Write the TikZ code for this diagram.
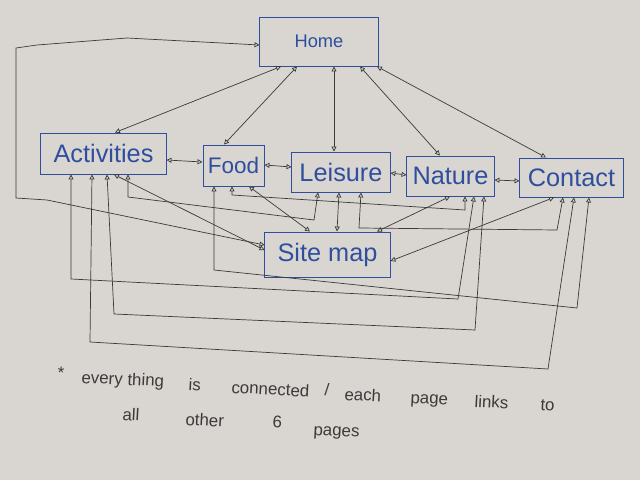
\documentclass[tikz,border=0pt]{standalone}
\usepackage{fontspec}
\setmainfont{Liberation Sans}
\usetikzlibrary{arrows.meta}

\definecolor{paper}{HTML}{D9D6D1}
\definecolor{ink}{HTML}{2F4E9E}
\definecolor{pencil}{HTML}{3A3A3A}

\begin{document}
\begin{tikzpicture}[
            x=0.025cm, y=-0.025cm,
            >={Triangle[open,length=3.5pt,width=3.5pt]},
            page/.style = {
                rectangle,
                draw=ink,
                line width=0.7pt,
                text=ink,
                inner sep=0pt,
                font=\fontsize{18}{20}\selectfont
            },
            link/.style = {
                <->,
                draw=pencil,
                line width=0.5pt
            },
            note/.style = {
                anchor=base west,
                text=pencil,
                inner sep=0pt,
                rotate=-3,
                font=\fontsize{12}{14}\selectfont
            }
        ]
            \fill[paper] (0,0) rectangle (640,480);
            \useasboundingbox (0,0) rectangle (640,480);

            \node[page, minimum width=2.95cm, minimum height=1.225cm, font=\fontsize{13}{15}\selectfont] (home) at (319,41.5) {Home};
            \node[page, minimum width=3.125cm, minimum height=1.025cm] (act) at (103.5,153.5) {Activities};
            \node[page, minimum width=1.525cm, minimum height=1.025cm, font=\fontsize{16}{18}\selectfont] (food) at (233.5,165.5) {Food};
            \node[page, minimum width=2.45cm, minimum height=1cm] (leis) at (341,172) {Leisure};
            \node[page, minimum width=2.175cm, minimum height=1cm] (nat) at (450.5,176) {Nature};
            \node[page, minimum width=2.575cm, minimum height=0.975cm] (cont) at (571.5,177.5) {Contact};
            \node[page, minimum width=3.125cm, minimum height=1.125cm] (site) at (327.5,254.5) {Site map};

            \draw[link] (home.south -| 281,0) -- (act.north -| 115,0);
            \draw[link] (home.south -| 297,0) -- (food.north -| 224,0);
            \draw[link] (home.south -| 334,0) -- (leis.north -| 334,0);
            \draw[link] (home.south -| 360,0) -- (nat.north -| 440,0);
            \draw[link] (home.south -| 377,0) -- (cont.north -| 546,0);
            \draw[link] (home.west |- 0,45) -- (127,38) -- (37,45) -- (16,48) -- (16,198) -- (47,200) -- (site.west |- 0,245);

            \draw[link] (act.east |- 0,160) -- (food.west |- 0,162);
            \draw[link] (food.east |- 0,165) -- (leis.west |- 0,167);
            \draw[link] (leis.east |- 0,173) -- (nat.west |- 0,175);
            \draw[link] (nat.east |- 0,180) -- (cont.west |- 0,181);

            \draw[link] (act.south -| 71,0) -- (71,279) -- (458,299) -- (nat.south -| 474,0);
            \draw[link] (act.south -| 92,0) -- (90,342) -- (548,369) -- (cont.south -| 574,0);
            \draw[link] (act.south -| 107,0) -- (114,314) -- (475,330) -- (nat.south -| 484,0);
            \draw[link] (act.south -| 114,0) -- (site.west |- 0,250);
            \draw[link] (act.south -| 128,0) -- (128,197) -- (314,220) -- (leis.south -| 318,0);

            \draw[link] (food.south -| 214,0) -- (214,270) -- (577,308) -- (cont.south -| 589,0);
            \draw[link] (food.south -| 232,0) -- (232,195) -- (465,210) -- (nat.south -| 465,0);
            \draw[link] (food.south -| 249,0) -- (site.north -| 310,0);

            \draw[link] (leis.south -| 339,0) -- (site.north -| 337,0);
            \draw[link] (leis.south -| 361,0) -- (359,228) -- (557,230) -- (cont.south -| 563,0);

            \draw[link] (nat.south -| 450,0) -- (site.north -| 377,0);
            \draw[link] (cont.south -| 554,0) -- (site.east |- 0,261);

            \foreach \w/\x/\y [count=\i] in {*/57/378, every/81/383, thing/127/385, is/188/390, connected/231/393, {/}/324/395, each/344/400, page/410/403, links/474/407, to/540/410, all/122/420, other/185/425, 6/272/427, pages/313/435} {
                \node[note] (word\i) at (\x,\y) {\w};
            }

        \end{tikzpicture}
\end{document}
